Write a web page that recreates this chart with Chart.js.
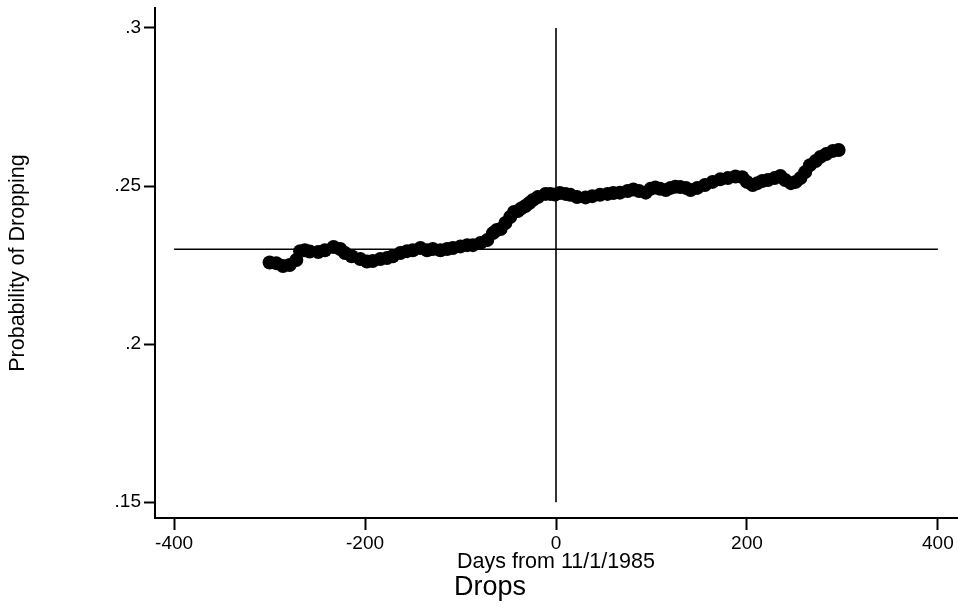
<!DOCTYPE html>
<html>
<head>
<meta charset="utf-8">
<script src="https://cdn.jsdelivr.net/npm/chart.js@4/dist/chart.umd.min.js"></script>
<style>
html,body{margin:0;padding:0;background:#fff;overflow:hidden;}
#wrap{width:958px;height:606px;position:relative;overflow:hidden;}
canvas{display:block;}
</style>
</head>
<body>
<div id="wrap"><canvas id="c"></canvas></div>
<script>
// Days from 11/1/1985
const days = [-300,-293,-286,-279,-272,-268,-263,-258,-249,-242,-233,-226,-221,-214,-205,-198,-192,-184,-177,-171,
  -163,-156,-150,-142,-135,-129,-121,-114,-108,-100,-93,-87,-79,-72,-66,-62,-58,-53,-48,-44,
  -40,-36,-32,-28,-24,-19,-11,-6,-1,4,10,15,22,31,38,46,54,60,67,75,
  81,87,94,99,104,109,115,120,125,130,136,141,148,156,164,172,180,188,195,200,
  206,211,216,222,229,235,240,246,251,256,261,266,272,277,283,290,296];
// Probability of Dropping
const probDrop = [.2258,.2256,.2247,.2250,.2266,.2294,.2297,.2293,.2291,.2297,.2307,.2301,.2288,.2278,.2269,.2261,.2263,.2269,.2272,.2278,
  .2288,.2294,.2297,.2304,.2297,.2301,.2297,.2301,.2304,.2309,.2313,.2313,.2320,.2329,.2351,.2361,.2364,.2383,.2402,.2418,
  .2421,.2430,.2437,.2446,.2456,.2465,.2475,.2475,.2473,.2478,.2475,.2472,.2465,.2464,.2468,.2472,.2475,.2478,.2479,.2484,
  .2489,.2484,.2479,.2491,.2495,.2491,.2487,.2494,.2498,.2497,.2494,.2487,.2494,.2503,.2513,.2521,.2525,.2530,.2528,.2513,
  .2503,.2509,.2516,.2519,.2525,.2532,.2519,.2509,.2513,.2525,.2544,.2566,.2579,.2592,.2601,.2611,.2614];
// reference lines
const refHX = [-400, 400];
const refHY = [0.23, 0.23];
const refVX = [0, 0];
const refVY = [0.15, 0.3];
// ticks
const xTicks = [-400, -200, 0, 200, 400];
const yTicks = [0.15, 0.2, 0.25, 0.3];
const yTickLabels = ['.15', '.2', '.25', '.3'];
const xTitle = 'Days from 11/1/1985';
const yTitle = 'Probability of Dropping';
const caption = 'Drops';

const FONT = '"Liberation Sans", Arial, sans-serif';

const captionPlugin = {
  id: 'caption',
  afterDraw(chart) {
    const ctx = chart.ctx;
    ctx.save();
    ctx.fillStyle = '#000';
    ctx.font = '27px ' + FONT;
    ctx.textAlign = 'left';
    ctx.textBaseline = 'alphabetic';
    ctx.fillText(caption, 454, 595);
    ctx.restore();
  }
};

new Chart(document.getElementById('c'), {
  type: 'scatter',
  data: {
    datasets: [
      {
        data: days.map((d, i) => ({x: d, y: probDrop[i]})),
        pointRadius: 7,
        pointBackgroundColor: '#000',
        pointBorderWidth: 0,
        showLine: false
      },
      {
        data: refHX.map((x, i) => ({x: x, y: refHY[i]})),
        showLine: true, pointRadius: 0, borderColor: '#000', borderWidth: 1.6
      },
      {
        data: refVX.map((x, i) => ({x: x, y: refVY[i]})),
        showLine: true, pointRadius: 0, borderColor: '#000', borderWidth: 1.6
      }
    ]
  },
  options: {
    responsive: true,
    maintainAspectRatio: false,
    animation: false,
    events: [],
    layout: {autoPadding: false, padding: {top: 8, right: 1, left: 0, bottom: 28}},
    plugins: {legend: {display: false}, tooltip: {enabled: false}, title: {display: false}},
    scales: {
      x: {
        type: 'linear',
        min: -420, max: 420,
        afterBuildTicks: s => { s.ticks = xTicks.map(v => ({value: v})); },
        afterFit: s => { s.height = 60; s.paddingLeft = 0; s.paddingRight = 0; },
        ticks: {color: '#000', font: {family: FONT, size: 19}, padding: 2, maxRotation: 0, autoSkip: false},
        grid: {display: true, drawOnChartArea: false, drawTicks: true, tickLength: 12, tickColor: '#000', tickWidth: 2},
        border: {display: true, color: '#000', width: 2},
        title: {display: true, text: xTitle, color: '#000', font: {family: FONT, size: 21.5}, padding: {top: 0, bottom: 3}}
      },
      y: {
        type: 'linear',
        min: 0.145, max: 0.3063,
        afterBuildTicks: s => { s.ticks = yTicks.map(v => ({value: v})); },
        afterFit: s => { s.width = 155; s.paddingTop = 0; s.paddingBottom = 0; },
        ticks: {color: '#000', font: {family: FONT, size: 19}, padding: 3,
          callback: v => { const i = yTicks.findIndex(t => Math.abs(t - v) < 1e-9); return i >= 0 ? yTickLabels[i] : ''; }},
        grid: {display: true, drawOnChartArea: false, drawTicks: true, tickLength: 11, tickColor: '#000', tickWidth: 2},
        border: {display: true, color: '#000', width: 2},
        title: {display: true, text: yTitle, color: '#000', font: {family: FONT, size: 21.5}, padding: {top: 5, bottom: 0}}
      }
    }
  },
  plugins: [captionPlugin]
});
</script>
</body>
</html>
